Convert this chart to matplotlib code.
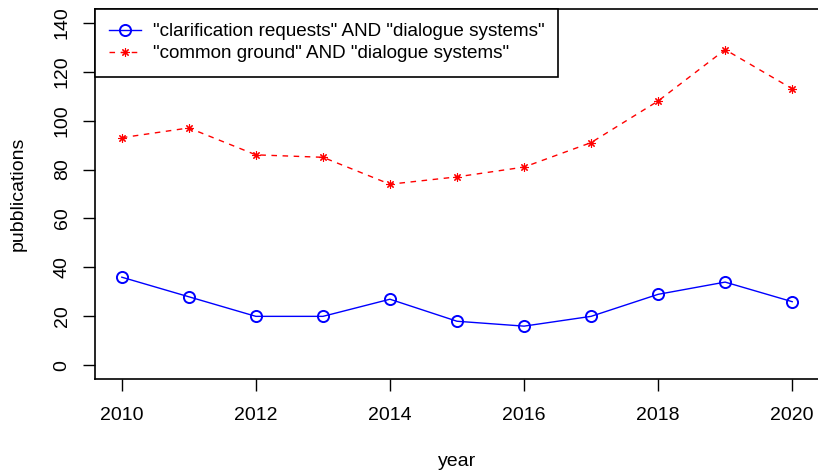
import matplotlib
matplotlib.use("Agg")
import matplotlib.pyplot as plt

years = [2010, 2011, 2012, 2013, 2014, 2015, 2016, 2017, 2018, 2019, 2020]
clarification = [36, 28, 20, 20, 27, 18, 16, 20, 29, 34, 26]
common_ground = [93, 97, 86, 85, 74, 77, 81, 91, 108, 129, 113]
labels = ['"clarification requests" AND "dialogue systems"',
          '"common ground" AND "dialogue systems"']

plt.rcParams['font.family'] = ['Liberation Sans', 'DejaVu Sans']
plt.rcParams['font.size'] = 14

fig = plt.figure(figsize=(8.18, 4.72), dpi=100)
ax = fig.add_axes([95/818, 1 - 379/472, 724/818, 370/472])

ax.plot(years, clarification, color='blue', marker='o', markersize=8,
        markerfacecolor='none', markeredgewidth=1.4, linewidth=1, label=labels[0])
ax.plot(years, common_ground, color='red', marker=(8, 2, 0), markersize=6,
        markeredgewidth=0.8, linestyle=(0, (4, 4)), linewidth=1, label=labels[1])

ax.set_xlim(2009.6, 2020.4)
ax.set_ylim(-5.6, 145.6)
ax.set_xticks(range(2010, 2021, 2))
ax.set_yticks(range(0, 141, 20))
for lab in ax.get_yticklabels():
    lab.set_rotation(90)
    lab.set_va('center')
ax.tick_params(axis='x', length=8.5, width=1, pad=12, labelsize=14)
ax.tick_params(axis='y', length=8.5, width=1, pad=9, labelsize=14)
for s in ax.spines.values():
    s.set_linewidth(1.2)

ax.set_xlabel('year', fontsize=14)
ax.xaxis.set_label_coords(0.5, -0.224)
ax.xaxis.label.set_va('center')
ax.set_ylabel('pubblications', fontsize=14)
ax.yaxis.set_label_coords(-0.106, 0.5)
ax.yaxis.label.set_va('center')

leg = ax.legend(loc='upper left', bbox_to_anchor=(0, 1.0), frameon=True,
                fancybox=False, edgecolor='black', framealpha=1,
                borderaxespad=0, handlelength=1.7, handletextpad=0.6,
                borderpad=0.75, labelspacing=0.25, fontsize=13.6)
leg.get_frame().set_linewidth(1.2)

fig.savefig('out.png', dpi=100)
